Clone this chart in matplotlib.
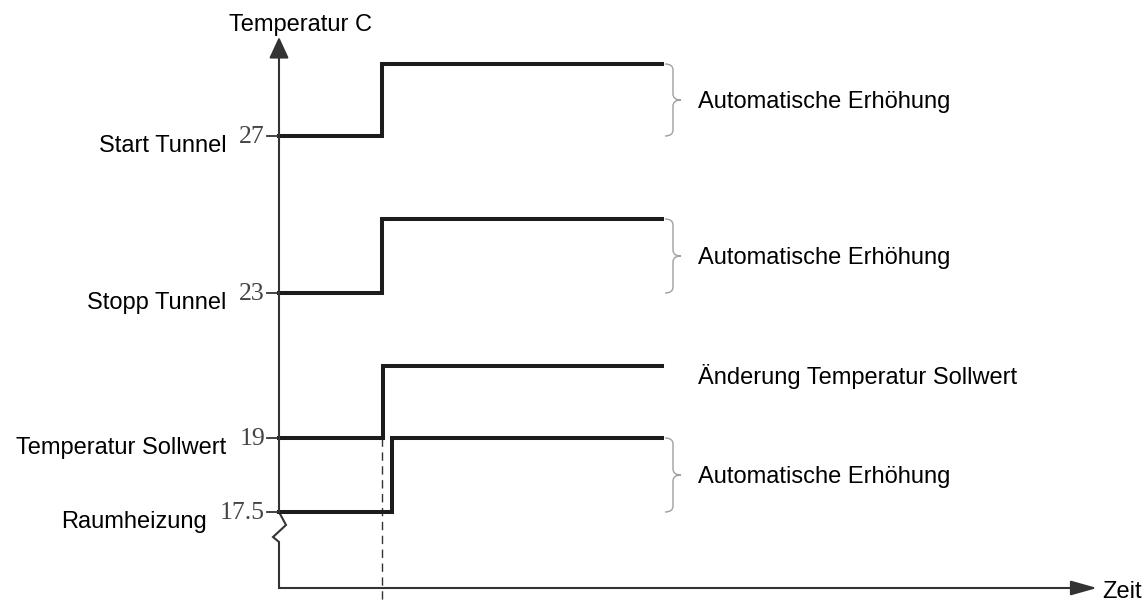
import numpy as np
import matplotlib
matplotlib.use("Agg")
import matplotlib.pyplot as plt
from matplotlib.path import Path
from matplotlib.patches import PathPatch

# schematic diagram, units ~ 10 px
labels = ["Start Tunnel", "Stopp Tunnel", "Temperatur Sollwert", "Raumheizung"]
values = ["27", "23", "19", "17.5"]
low = [45.2, 29.5, 15.0, 7.6]
high = [52.4, 36.9, 22.2, 15.0]
step_x = [10.3, 10.3, 10.4, 11.3]
line_end = 38.3
notes = ["Automatische Erhöhung", "Automatische Erhöhung",
         "Änderung Temperatur Sollwert", "Automatische Erhöhung"]
braced = [True, True, False, True]

AX_COL = "#333333"
LINE_COL = "#1c1c1c"
SANS = "Liberation Sans"
SERIF = "Liberation Serif"

fig = plt.figure(figsize=(11.45, 6.01), dpi=100)
ax = fig.add_axes([0, 0, 1, 1])
ax.set_xlim(-27.9, 86.6)
ax.set_ylim(-1.3, 58.8)
ax.axis("off")

# y axis with break
zz_x = [0, 0.7, -0.6, 0, 0]
zz_y = [low[3], 6.3, 5.1, 4.6, 0]
ax.plot(zz_x, zz_y, color=AX_COL, lw=1.5, solid_joinstyle="miter")
ax.annotate("", xy=(0, 55.1), xytext=(0, low[3]),
            arrowprops=dict(arrowstyle="-|>,head_length=1.3,head_width=0.6",
                            color=AX_COL, lw=1.5, shrinkA=0, shrinkB=0))
ax.annotate("", xy=(81.8, 0), xytext=(0, 0),
            arrowprops=dict(arrowstyle="-|>,head_length=1.6,head_width=0.45",
                            color=AX_COL, lw=1.5, shrinkA=0, shrinkB=0))
ax.text(2.15, 55.7, "Temperatur C", fontsize=17, family=SANS, ha="center", va="baseline")
ax.text(82.3, -1.0, "Zeit", fontsize=17, family=SANS, ha="left", va="baseline")

# dashed marker for the setpoint change
ax.plot([step_x[0], step_x[0]], [low[2], -1.3], color=AX_COL, lw=1.0,
        dashes=(6, 4))

fig.canvas.draw()
renderer = fig.canvas.get_renderer()

for i in range(len(labels)):
    ax.step([0, step_x[i], line_end], [low[i], high[i], high[i]],
            where="post", color=LINE_COL, lw=2.9, solid_joinstyle="miter")
    ax.plot([-1.2, 0], [low[i], low[i]], color=AX_COL, lw=1.3)
    num = ax.text(-1.4, low[i] - 0.1, values[i], fontsize=18.5, family=SERIF,
                  color="#444444", ha="right", va="center")
    bb = num.get_window_extent(renderer)
    x_left = ax.transData.inverted().transform((bb.x0, 0))[0]
    ax.text(x_left - 1.3, low[i] - 1.6, labels[i], fontsize=17, family=SANS,
            ha="right", va="baseline")

    top, bot = high[i], low[i]
    if braced[i]:
        x0, xm, xt = 38.6, 39.4, 40.2
        mid = (top + bot) / 2
        r = 0.6
        verts = [(x0, top), (xm, top), (xm, top - r),
                 (xm, mid + r), (xm, mid), (xt, mid),
                 (xm, mid), (xm, mid - r),
                 (xm, bot + r), (xm, bot), (x0, bot)]
        codes = [Path.MOVETO, Path.CURVE3, Path.CURVE3,
                 Path.LINETO, Path.CURVE3, Path.CURVE3,
                 Path.CURVE3, Path.CURVE3,
                 Path.LINETO, Path.CURVE3, Path.CURVE3]
        ax.add_patch(PathPatch(Path(verts, codes), fill=False,
                               edgecolor="#a0a0a0", lw=1.0))
        ax.text(41.9, mid - 0.85, notes[i], fontsize=17, family=SANS,
                ha="left", va="baseline")
    else:
        ax.text(41.9, top - 1.8, notes[i], fontsize=17, family=SANS,
                ha="left", va="baseline")

fig.savefig("out.png", dpi=100)
